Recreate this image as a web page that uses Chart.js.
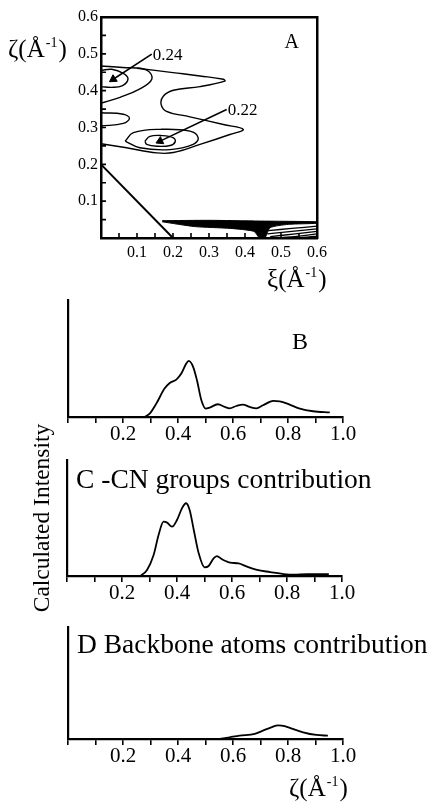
<!DOCTYPE html>
<html>
<head>
<meta charset="utf-8">
<title>Calculated intensity</title>
<script src="https://cdn.jsdelivr.net/npm/chart.js@4.4.1/dist/chart.umd.min.js"></script>
<style>
  html, body { margin: 0; padding: 0; background: #fff; }
  #wrap { position: relative; width: 431px; height: 803px; overflow: hidden; }
  #wrap canvas { position: absolute; left: 0; top: 0; }
</style>
</head>
<body>
<div id="wrap">
  <canvas id="mapA" width="431" height="803"></canvas>
  <canvas id="totalB" width="431" height="803"></canvas>
  <canvas id="cnC" width="431" height="803"></canvas>
  <canvas id="backboneD" width="431" height="803"></canvas>
</div>
<script>
// ---- panel A: contour map, [xi, zeta] pairs in 1/Å ----
const ridgeInner = [[0, 0.455], [0.03, 0.458], [0.062, 0.447], [0.075, 0.432], [0.06, 0.414], [0.03, 0.409], [0, 0.411]];
const ridgeOuter = [[0, 0.467], [0.06, 0.463], [0.127, 0.456], [0.141, 0.431], [0.108, 0.405], [0.053, 0.382], [0, 0.366]];
const bigContour = [[0.10, 0.461], [0.20, 0.449], [0.275, 0.440], [0.340, 0.431], [0.344, 0.426], [0.275, 0.411],
  [0.201, 0.401], [0.173, 0.385], [0.167, 0.363], [0.182, 0.344], [0.247, 0.329], [0.340, 0.308], [0.395, 0.295],
  [0.358, 0.281], [0.275, 0.254], [0.201, 0.232], [0.155, 0.231], [0.071, 0.245], [0, 0.256]];
const sideLobe = [[0, 0.340], [0.062, 0.336], [0.079, 0.325], [0.062, 0.311], [0, 0.304]];
const spotOuter = [[0.067, 0.263], [0.090, 0.286], [0.164, 0.295], [0.247, 0.290], [0.270, 0.272], [0.256, 0.254],
  [0.192, 0.240], [0.108, 0.245], [0.067, 0.263]];
const spotInner = [[0.122, 0.263], [0.136, 0.276], [0.169, 0.278], [0.201, 0.272], [0.206, 0.261], [0.192, 0.251],
  [0.155, 0.249], [0.127, 0.254], [0.122, 0.263]];
const cutLine = [[0, 0.2], [0.2, 0]];
// dense low-zeta region: merged contours form a dark wedge, then fan out
const lowQWedge = [[0.17, 0.047], [0.30, 0.048], [0.44, 0.046], [0.60, 0.044], [0.60, 0.040], [0.52, 0.037],
  [0.47, 0.028], [0.455, 0.000], [0.44, 0.000], [0.425, 0.018], [0.36, 0.026], [0.26, 0.031], [0.17, 0.044]];
const lowQContours = [
  [[0.465, 0.020], [0.53, 0.026], [0.60, 0.032]],
  [[0.462, 0.011], [0.53, 0.018], [0.60, 0.025]],
  [[0.47, 0.004], [0.54, 0.011], [0.60, 0.018]],
  [[0.50, 0.001], [0.55, 0.005], [0.60, 0.011]],
  [[0.54, 0.000], [0.57, 0.002], [0.60, 0.005]]
];
const peakPos = [[0.034, 0.431], [0.164, 0.263]];
const peakTip = [[0.141, 0.499], [0.349, 0.349]];
const peakLabels = ['0.24', '0.22'];

// ---- panels B-D: intensity profiles along zeta ----
const zetaB = [0.279, 0.297, 0.321, 0.351, 0.370, 0.394, 0.412, 0.430, 0.439, 0.455, 0.469, 0.485, 0.501, 0.515,
  0.545, 0.570, 0.588, 0.612, 0.636, 0.661, 0.685, 0.709, 0.746, 0.770, 0.806, 0.843, 0.891, 0.952];
const intensityB = [0, 2.9, 11.4, 24.3, 29.1, 32, 37.1, 45.7, 48, 42.9, 31.4, 14.3, 7.1, 8,
  10.9, 8.6, 7.4, 9.4, 10.6, 8.6, 7.4, 10, 13.7, 13.4, 10.6, 7.1, 4.9, 4];
const zetaC = [0.267, 0.291, 0.315, 0.333, 0.351, 0.364, 0.382, 0.400, 0.418, 0.433, 0.446, 0.461, 0.479, 0.500,
  0.515, 0.533, 0.545, 0.564, 0.594, 0.624, 0.655, 0.691, 0.739, 0.788, 0.824, 0.873, 0.952];
const intensityC = [0, 5.2, 18.1, 35.4, 46.8, 46, 42.5, 48.3, 58.3, 62.7, 56.9, 39.7, 19.5, 7.5,
  8.6, 15.2, 17.2, 14.4, 11.5, 10.9, 8, 5.2, 3.4, 1.7, 1.1, 1.7, 1.7];
const zetaD = [0.552, 0.588, 0.624, 0.679, 0.709, 0.739, 0.764, 0.788, 0.818, 0.855, 0.903, 0.945];
const intensityD = [0, 1.5, 3, 4.5, 7.5, 10.4, 12.2, 11.6, 9, 6, 3.6, 3];

const SERIF = '"Liberation Serif", "DejaVu Serif", serif';
Chart.defaults.font.family = SERIF;
Chart.defaults.color = '#000';

const W = 431, H = 803;
const toXY = (pts) => pts.map(([x, y]) => ({ x, y }));
const zip = (xs, ys) => xs.map((x, i) => ({ x, y: ys[i] }));

function contour(pts, width = 1.4, tension = 0.4) {
  return { data: toXY(pts), showLine: true, borderColor: '#000', borderWidth: width,
    pointRadius: 0, tension, fill: false };
}

// symbol + (Å^-1) with a raised exponent
function unitLabel(ctx, sym, x, y, size) {
  ctx.save();
  ctx.fillStyle = '#000';
  ctx.textAlign = 'left';
  ctx.textBaseline = 'alphabetic';
  ctx.font = size + 'px ' + SERIF;
  const head = sym + '(Å';
  ctx.fillText(head, x, y);
  x += ctx.measureText(head).width + 1;
  ctx.font = Math.round(size * 0.55) + 'px ' + SERIF;
  ctx.fillText('-1', x, y - size * 0.42);
  x += ctx.measureText('-1').width + 1;
  ctx.font = size + 'px ' + SERIF;
  ctx.fillText(')', x, y);
  ctx.restore();
}

function text(ctx, str, x, y, size, align = 'left') {
  ctx.save();
  ctx.fillStyle = '#000';
  ctx.textAlign = align;
  ctx.textBaseline = 'alphabetic';
  ctx.font = size + 'px ' + SERIF;
  ctx.fillText(str, x, y);
  ctx.restore();
}

const baseOptions = {
  responsive: false,
  animation: false,
  events: [],
  plugins: { legend: { display: false }, tooltip: { enabled: false } }
};

// ---------- A ----------
const area = { left: 101, right: 317, top: 17, bottom: 238 };

const mapDecor = {
  id: 'mapDecor',
  afterDraw(chart) {
    const { ctx, chartArea: a, scales: { x, y } } = chart;
    // inward minor ticks every 0.05
    ctx.save();
    ctx.strokeStyle = '#000';
    ctx.lineWidth = 1.6;
    ctx.beginPath();
    for (let i = 1; i < 12; i++) {
      const v = i * 0.05;
      const px = x.getPixelForValue(v), py = y.getPixelForValue(v);
      ctx.moveTo(px, a.bottom); ctx.lineTo(px, a.bottom - 5);
      ctx.moveTo(a.left, py); ctx.lineTo(a.left + 5, py);
    }
    ctx.stroke();
    ctx.restore();

    peakLabels.forEach((lbl, i) => {
      const [tx, ty] = peakTip[i];
      ctx.save();
      ctx.font = '17px ' + SERIF;
      ctx.fillStyle = '#000';
      ctx.textBaseline = 'middle';
      ctx.fillText(lbl, x.getPixelForValue(tx) + 1, y.getPixelForValue(ty) + 1);
      ctx.restore();
    });
    text(ctx, 'A', x.getPixelForValue(0.53), y.getPixelForValue(0.515), 20, 'center');
    unitLabel(ctx, 'ζ', 8, 57, 25);
    unitLabel(ctx, 'ξ', 267, 287, 25);
  }
};

new Chart(document.getElementById('mapA'), {
  type: 'scatter',
  data: {
    datasets: [
      contour(ridgeInner), contour(ridgeOuter), contour(bigContour), contour(sideLobe),
      contour(spotOuter), contour(spotInner),
      contour(cutLine, 2, 0),
      { ...contour(lowQWedge, 1, 0.2), fill: 'shape', backgroundColor: '#000' },
      ...lowQContours.map(c => contour(c, 1.3, 0.3)),
      ...peakPos.map((p, i) => contour([p, peakTip[i]], 1.6, 0)),
      { data: toXY(peakPos), showLine: false, pointStyle: 'triangle', pointRadius: 4.5,
        pointRotation: [237, 245], backgroundColor: '#000', borderColor: '#000', borderWidth: 1 }
    ]
  },
  options: {
    ...baseOptions,
    layout: { padding: 0 },
    scales: {
      x: {
        type: 'linear', position: 'bottom', min: 0, max: 0.6,
        afterFit: s => { s.height = H - area.bottom; },
        grid: { display: false, drawTicks: false },
        border: { display: true, color: '#000', width: 2.5 },
        ticks: { stepSize: 0.1, padding: 5, maxRotation: 0, autoSkip: false, font: { size: 16 },
          callback: v => (v < 0.01 ? '' : v.toFixed(1)) }
      },
      y: {
        type: 'linear', position: 'left', min: 0, max: 0.6,
        afterFit: s => { s.width = area.left; },
        grid: { display: false, drawTicks: false },
        border: { display: true, color: '#000', width: 2.5 },
        ticks: { stepSize: 0.1, padding: 3, autoSkip: false, font: { size: 16 },
          callback: v => (v < 0.01 ? '' : v.toFixed(1)) }
      },
      xTop: {
        type: 'linear', position: 'top', min: 0, max: 0.6,
        afterFit: s => { s.height = area.top; },
        grid: { display: false, drawTicks: false },
        border: { display: true, color: '#000', width: 2.5 },
        ticks: { display: false }
      },
      yRight: {
        type: 'linear', position: 'right', min: 0, max: 0.6,
        afterFit: s => { s.width = W - area.right; },
        grid: { display: false, drawTicks: false },
        border: { display: true, color: '#000', width: 2.5 },
        ticks: { display: false }
      }
    }
  },
  plugins: [mapDecor]
});

// ---------- B, C, D ----------
function profileChart(id, zeta, intensity, box, decor, yTitle) {
  new Chart(document.getElementById(id), {
    type: 'scatter',
    data: {
      datasets: [{
        data: zip(zeta, intensity), showLine: true, borderColor: '#000', borderWidth: 1.8,
        pointRadius: 0, cubicInterpolationMode: 'monotone', fill: false
      }]
    },
    options: {
      ...baseOptions,
      layout: { padding: { top: box.top, right: W - box.right, left: 0, bottom: 0 } },
      scales: {
        x: {
          type: 'linear', min: 0, max: 1.0,
          afterFit: s => { s.height = H - box.bottom; },
          grid: { display: true, drawOnChartArea: false, drawTicks: true, tickLength: 6,
            color: '#000', lineWidth: 1.6 },
          border: { display: true, color: '#000', width: 2.2 },
          ticks: { stepSize: 0.1, padding: -1, maxRotation: 0, autoSkip: false, font: { size: 21 },
            callback: v => {
              const k = Math.round(v * 10);
              return (k > 0 && k % 2 === 0) ? v.toFixed(1) : '';
            } }
        },
        y: {
          type: 'linear', min: 0, max: 100,
          afterFit: s => { s.width = box.left; },
          grid: { display: false },
          border: { display: true, color: '#000', width: 2.2 },
          ticks: { display: false },
          title: yTitle ? { display: true, text: yTitle, font: { size: 23.5 }, padding: { top: 29, bottom: 0 } }
                        : { display: false }
        }
      }
    },
    plugins: [{ id: id + 'Decor', afterDraw: c => decor(c.ctx, c.chartArea) }]
  });
}

profileChart('totalB', zetaB, intensityB, { left: 68, right: 343, top: 300, bottom: 417 },
  (ctx, a) => text(ctx, 'B', a.left + 232, a.top + 49, 24, 'center'));

profileChart('cnC', zetaC, intensityC, { left: 67, right: 342, top: 460, bottom: 576 },
  (ctx, a) => text(ctx, 'C -CN groups contribution', a.left + 9, a.top + 28, 27.5),
  'Calculated Intensity');

profileChart('backboneD', zetaD, intensityD, { left: 68, right: 343, top: 627, bottom: 739 },
  (ctx, a) => {
    text(ctx, 'D Backbone atoms contribution', a.left + 9, a.top + 26, 27.5);
    unitLabel(ctx, 'ζ', 289, 796, 25);
  });
</script>
</body>
</html>
